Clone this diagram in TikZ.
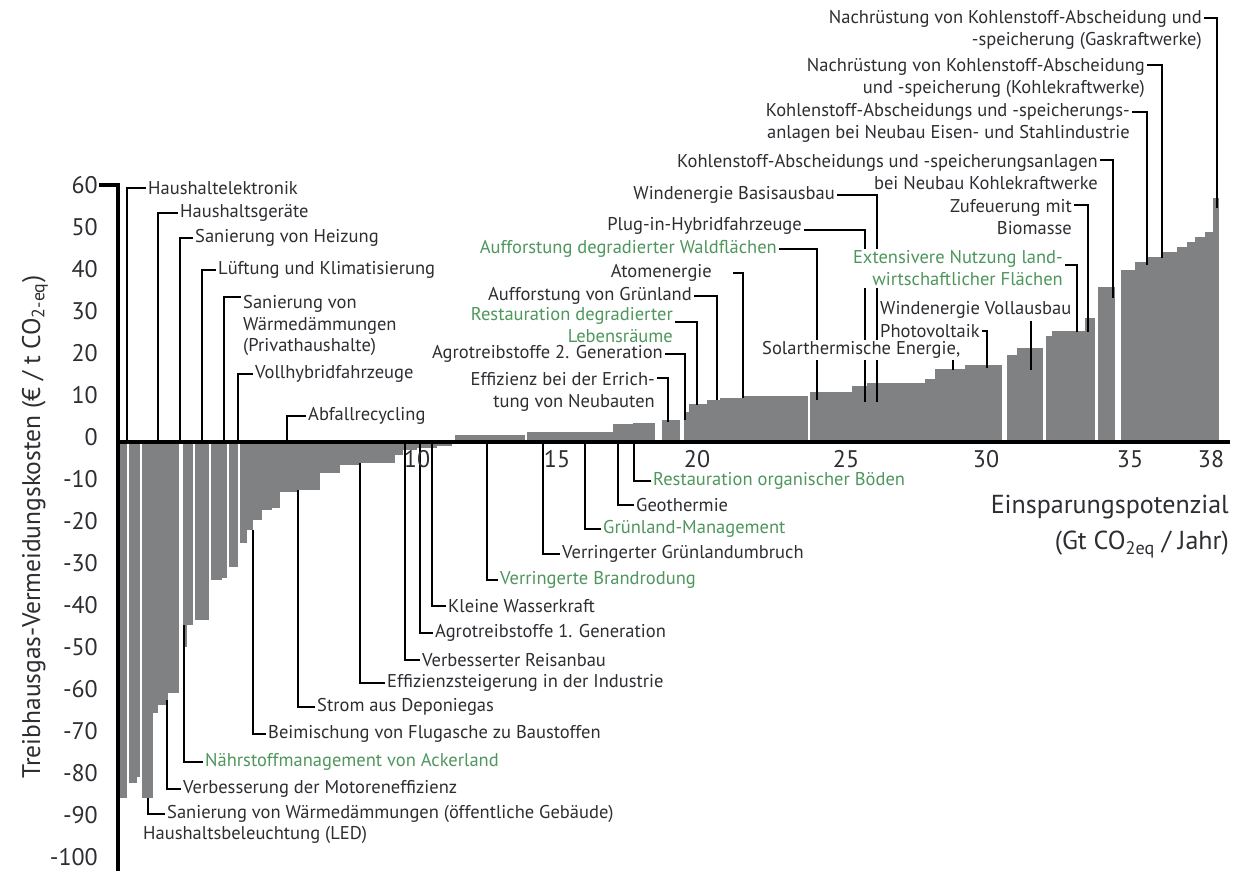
\documentclass[tikz,border=0pt]{standalone}
\usepackage{fontspec}
\setmainfont{PT Sans}
\usetikzlibrary{calc}
\definecolor{barfill}{RGB}{128,129,131}
\definecolor{lbltext}{RGB}{45,45,50}
\definecolor{natgreen}{RGB}{78,150,92}

\begin{document}
\begin{tikzpicture}[
    x=1pt, y=-1pt,
    lbl/.style={font=\fontsize{18.5}{21.5}\selectfont, text=lbltext, inner sep=2pt},
    grn/.style={lbl, text=natgreen},
    lead/.style={black, line width=1.6pt},
    axisline/.style={black, line width=4.5pt},
    tick/.style={font=\fontsize{24}{26}\selectfont, text=lbltext, inner sep=0pt},
]
\useasboundingbox (0,0) rectangle (1234,871);

% ── Adjustable parameters ───────────────────────────────────────────────────
\def\zero{442}   % pixel row of the cost zero line

% ── Bars (left, right, end row) ─────────────────────────────────────────────
\foreach \xa/\xb/\yb in {120/127/798, 129/137/783, 137/140/777, 142/153/798,
    153/158/713, 158/168/705, 168/179/693, 183/187/647, 187/193/625,
    195/209/620, 211/222/580, 222/227/578, 229/238/567, 240/247/543,
    247/253/530, 253/262/520, 262/272/510, 272/280/508, 280/298/492,
    298/320/490, 320/340/473, 340/360/465, 360/395/463, 395/403/455,
    403/417/450, 417/437/448, 437/452/446,
    455/525/435, 527/613/432, 613/633/424, 633/655/423, 662/680/420,
    684/689/412, 689/707/404, 707/720/400, 720/743/398, 743/808/396,
    810/852/392, 852/867/386, 867/925/383, 925/935/379, 935/965/369,
    965/1002/365, 1007/1017/355, 1017/1043/348, 1046/1052/336,
    1052/1085/331, 1085/1095/318, 1098/1115/287, 1121/1135/270,
    1135/1147/262, 1147/1161/257, 1161/1177/252, 1177/1187/247,
    1187/1195/242, 1195/1205/237, 1205/1213/232, 1213/1219/198}
    \fill[barfill] (\xa,\zero) rectangle (\xb,\yb);

% ── Leader end points on the bars ───────────────────────────────────────────
\coordinate (t-hhelek)   at (127,\zero);
\coordinate (t-hhger)    at (158,\zero);
\coordinate (t-sanheiz)  at (180,\zero);
\coordinate (t-lueft)    at (202,\zero);
\coordinate (t-sanwd)    at (224,\zero);
\coordinate (t-vollhyb)  at (238,\zero);
\coordinate (t-abfall)   at (287,\zero);
\coordinate (t-sanoeff)  at (148,798);
\coordinate (t-motor)    at (167,700);
\coordinate (t-naehr)    at (184,625);
\coordinate (t-beim)     at (253,530);
\coordinate (t-strom)    at (298,490);
\coordinate (t-effind)   at (360,463);
\coordinate (t-reis)     at (405,\zero);
\coordinate (t-agro1)    at (420,\zero);
\coordinate (t-kleinw)   at (432,\zero);
\coordinate (t-brand)    at (487,\zero);
\coordinate (t-gumbr)    at (543,\zero);
\coordinate (t-gman)     at (585,\zero);
\coordinate (t-geoth)    at (618,\zero);
\coordinate (t-restorg)  at (634,\zero);
\coordinate (t-effneu)   at (668,422);
\coordinate (t-agro2)    at (685,420);
\coordinate (t-restdeg)  at (697,405);
\coordinate (t-auffgr)   at (717,400);
\coordinate (t-atom)     at (743,398);
\coordinate (t-auffwald) at (817,400);
\coordinate (t-plugin)   at (865,402);
\coordinate (t-windbas)  at (877,402);
\coordinate (t-solar)    at (953,370);
\coordinate (t-photov)   at (987,368);
\coordinate (t-windvoll) at (1031,370);
\coordinate (t-extens)   at (1077,332);
\coordinate (t-zufeu)    at (1088,332);
\coordinate (t-ccskohle) at (1113,298);
\coordinate (t-ccsstahl) at (1147,265);
\coordinate (t-nachkohle) at (1162,258);
\coordinate (t-nachgas)  at (1217,208);

% ── Labels above the zero line, left part ───────────────────────────────────
\node[lbl, anchor=west] (hhelek)  at (146,188) {Haushaltelektronik};
\node[lbl, anchor=west] (hhger)   at (178,213) {Haushaltsgeräte};
\node[lbl, anchor=west] (sanheiz) at (193,238) {Sanierung von Heizung};
\node[lbl, anchor=west] (lueft)   at (216,270) {Lüftung und Klimatisierung};
\node[lbl, anchor=north west, align=left] (sanwd) at (241,293.6)
    {Sanierung von\\Wärmedämmungen\\(Privathaushalte)};
\node[lbl, anchor=west] (vollhyb) at (253,374) {Vollhybridfahrzeuge};
\node[lbl, anchor=west] (abfall)  at (306,416) {Abfallrecycling};

% ── Labels below the zero line ──────────────────────────────────────────────
\node[lbl, anchor=west] (hhled)   at (141,835) {Haushaltsbeleuchtung (LED)};
\node[lbl, anchor=west] (sanoeff) at (165,814)
    {Sanierung von Wärmedämmungen (öffentliche Gebäude)};
\node[lbl, anchor=west] (motor)   at (181,789) {Verbesserung der Motoreneffizienz};
\node[grn, anchor=west] (naehr)   at (203,762) {Nährstoffmanagement von Ackerland};
\node[lbl, anchor=west] (beim)    at (266,734) {Beimischung von Flugasche zu Baustoffen};
\node[lbl, anchor=west] (strom)   at (315,707) {Strom aus Deponiegas};
\node[lbl, anchor=west] (effind)  at (385,683) {Effizienzsteigerung in der Industrie};
\node[lbl, anchor=west] (reis)    at (420,660) {Verbesserter Reisanbau};
\node[lbl, anchor=west] (agro1)   at (433,633) {Agrotreibstoffe 1. Generation};
\node[lbl, anchor=west] (kleinw)  at (446,606) {Kleine Wasserkraft};
\node[grn, anchor=west] (brand)   at (498,580) {Verringerte Brandrodung};
\node[lbl, anchor=west] (gumbr)   at (560,554) {Verringerter Grünlandumbruch};
\node[grn, anchor=west] (gman)    at (601,529) {Grünland-Management};
\node[lbl, anchor=west] (geoth)   at (634,505) {Geothermie};
\node[grn, anchor=west] (restorg) at (651,481) {Restauration organischer Böden};

% ── Labels above the zero line, right part ──────────────────────────────────
\node[lbl, anchor=north east, align=right] (effneu) at (657,370.6)
    {Effizienz bei der Errich-\\tung von Neubauten};
\node[lbl, anchor=east] (agro2)    at (665,354) {Agrotreibstoffe 2. Generation};
\node[grn, anchor=north east, align=right] (restdeg) at (675,305.6)
    {Restauration degradierter\\Lebensräume};
\node[lbl, anchor=east] (auffgr)   at (694,296) {Aufforstung von Grünland};
\node[lbl, anchor=east] (atom)     at (714,273) {Atomenergie};
\node[grn, anchor=east] (auffwald) at (779,249) {Aufforstung degradierter Waldflächen};
\node[lbl, anchor=east] (plugin)   at (804,226) {Plug-in-Hybridfahrzeuge};
\node[lbl, anchor=east] (windbas)  at (837,195) {Windenergie Basisausbau};
\node[lbl, anchor=west] (photov)   at (878,331) {Photovoltaik};
\node[lbl, anchor=west] (windvoll) at (878,310) {Windenergie Vollausbau};
\node[lbl, anchor=north east, align=right] (zufeu) at (1074,197.6)
    {Zufeuerung mit\\Biomasse};
\node[lbl, anchor=north east, align=right] (ccskohle) at (1100,152.6)
    {Kohlenstoff-Abscheidungs und -speicherungsanlagen\\bei Neubau Kohlekraftwerke};
\node[lbl, anchor=north east, align=right] (ccsstahl) at (1132,101.6)
    {Kohlenstoff-Abscheidungs und -speicherungs-\\anlagen bei Neubau Eisen- und Stahlindustrie};
\node[lbl, anchor=north east, align=right] (nachkohle) at (1147,56.6)
    {Nachrüstung von Kohlenstoff-Abscheidung\\und -speicherung (Kohlekraftwerke)};
\node[lbl, anchor=north east, align=right] (nachgas) at (1204,8.6)
    {Nachrüstung von Kohlenstoff-Abscheidung und\\-speicherung (Gaskraftwerke)};

% ── Leaders ─────────────────────────────────────────────────────────────────
\draw[lead] (hhelek.west) -| (t-hhelek);
\draw[lead] (hhger.west) -| (t-hhger);
\draw[lead] (sanheiz.west) -| (t-sanheiz);
\draw[lead] (lueft.west) -| (t-lueft);
\draw[lead] ([yshift=-3.4pt]sanwd.north west) -| (t-sanwd);
\draw[lead] (vollhyb.west) -| (t-vollhyb);
\draw[lead] (abfall.west) -| (t-abfall);

\draw[lead] (t-sanoeff) |- (sanoeff.west);
\draw[lead] (t-motor) |- (motor.west);
\draw[lead] (t-naehr) |- (naehr.west);
\draw[lead] (t-beim) |- (beim.west);
\draw[lead] (t-strom) |- (strom.west);
\draw[lead] (t-effind) |- (effind.west);
\draw[lead] (t-reis) |- (reis.west);
\draw[lead] (t-agro1) |- (agro1.west);
\draw[lead] (t-kleinw) |- (kleinw.west);
\draw[lead] (t-brand) |- (brand.west);
\draw[lead] (t-gumbr) |- (gumbr.west);
\draw[lead] (t-gman) |- (gman.west);
\draw[lead] (t-geoth) |- (geoth.west);
\draw[lead] (t-restorg) |- (restorg.west);

\draw[lead] ([yshift=-7.4pt]effneu.north east) -| (t-effneu);
\draw[lead] (agro2.east) -| (t-agro2);
\draw[lead] ([yshift=-16.4pt]restdeg.north east) -| (t-restdeg);
\draw[lead] (auffgr.east) -| (t-auffgr);
\draw[lead] ([xshift=19pt]atom.east) -| (t-atom);
\draw[lead] (auffwald.east) -| (t-auffwald);
\draw[lead] ([yshift=-4pt]plugin.east) -| (t-plugin);
\draw[lead] (windbas.east) -| (t-windbas);
\draw[lead] (photov.east) -| (t-photov);
\draw[lead] (windvoll.south -| t-windvoll) -- (t-windvoll);
\draw[lead] ([yshift=-7.4pt]zufeu.north east) -| (t-zufeu);
\draw[lead] ([yshift=-7.4pt]ccskohle.north east) -| (t-ccskohle);
\draw[lead] ([yshift=-10.4pt]ccsstahl.north east) -| (t-ccsstahl);
\draw[lead] ([yshift=-8.4pt]nachkohle.north east) -| (t-nachkohle);
\draw[lead] ([yshift=-9.4pt]nachgas.north east) -| (t-nachgas);

% labels set in front of the two wind/plug-in leaders
\node[grn, anchor=north east, align=right, fill=white] (extens) at (1065,248.6)
    {Extensivere Nutzung land-\\wirtschaftlicher Flächen};
\draw[lead] ([yshift=-16.4pt]extens.north east) -| (t-extens);
\node[lbl, anchor=west, fill=white, inner ysep=1pt] (solar) at (760,350)
    {Solarthermische Energie,};
\draw[lead] (solar.south -| t-solar) -- (t-solar);

% ── Axes ────────────────────────────────────────────────────────────────────
\draw[axisline] (118,\zero) -- (1230,\zero);
\draw[axisline] (99,185) -- (118,185) -- (118,871);

\foreach \v in {60,50,...,-100}
    \node[tick, anchor=east] (yt\v) at (98,{437-4.2*\v}) {\v};
\foreach \lab/\xp in {10/417, 15/557, 20/697, 25/846, 30/986, 35/1130, 38/1211}
    \node[tick] (xt\lab) at (\xp,459) {\lab};

\node[rotate=90, font=\fontsize{25.5}{28}\selectfont, text=lbltext] (ytitle) at (35,527)
    {Treibhausgas-Vermeidungskosten (€ / t CO\textsubscript{2-eq})};
\node[anchor=north east, align=right, inner sep=0pt,
      font=\fontsize{26}{36}\selectfont, text=lbltext] (xtitle) at (1229,495)
    {Einsparungspotenzial\\(Gt CO\textsubscript{2eq} / Jahr)};

\end{tikzpicture}
\end{document}
